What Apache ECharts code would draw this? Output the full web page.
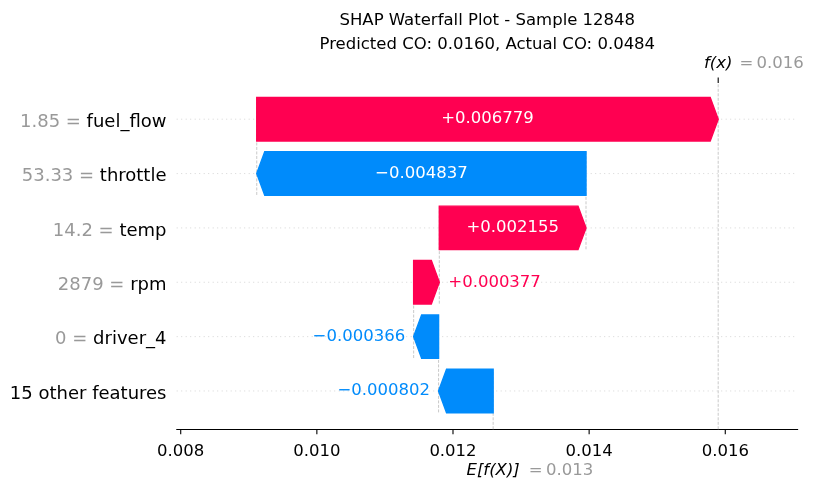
<!DOCTYPE html>
<html>
<head>
<meta charset="utf-8">
<script src="https://cdn.jsdelivr.net/npm/echarts@6/dist/echarts.min.js"></script>
<style>html,body{margin:0;padding:0;background:#fff}#main{width:813px;height:489px}</style>
</head>
<body>
<div id="main"></div>
<script>
// rows listed top to bottom
var features = ['fuel_flow', 'throttle', 'temp', 'rpm', 'driver_4', '15 other features'];
var featureValues = ['1.85', '53.33', '14.2', '2879', '0', ''];
var shapValues = [0.006779, -0.004837, 0.002155, 0.000377, -0.000366, -0.000802];
var baseValue = 0.01259;
var xTicks = [0.008, 0.010, 0.012, 0.014, 0.016];
var xMin = 0.007941, xMax = 0.017064;
var yMin = -0.705, yMax = 5.666;

var RED = '#ff0051', BLUE = '#008bfb', GRAY = '#999999';
var FONT = 'DejaVu Sans';
var n = features.length;

// bottom row starts at the base value, each bar starts where the one below ends
var bars = [];
var loc = baseValue;
for (var i = n - 1; i >= 0; i--) {
    bars[i] = [loc, loc + shapValues[i], n - 1 - i, shapValues[i]];
    loc += shapValues[i];
}
var fx = loc;

// guide lines: [x0, y0, x1, y1, kind]  kind 0 dashed, 1 dotted, 2 tick down, 3 tick up
var guides = [];
for (var r = 0; r < n; r++) guides.push([xMin, r, xMax, r, 1]);
for (var i = 0; i < n - 1; i++) {
    guides.push([bars[i][0], bars[i][2] + 0.4, bars[i][0], bars[i][2] - 1.4, 0]);
}
guides.push([baseValue, yMin, baseValue, yMin + (yMax - yMin) / n, 0]);
guides.push([fx, yMin, fx, yMax, 0]);
xTicks.forEach(function (t) { guides.push([t, yMin, t, yMin, 2]); });
guides.push([fx, yMax, fx, yMax, 3]);

function fmt(v) {
    return (v > 0 ? '+' : '\u2212') + Math.abs(v).toFixed(6);
}

function renderGuide(params, api) {
    var p0 = api.coord([api.value(0), api.value(1)]);
    var p1 = api.coord([api.value(2), api.value(3)]);
    var kind = api.value(4);
    if (kind >= 2) {
        var d = kind === 2 ? 5 : -5.4;
        return {
            type: 'line',
            shape: {x1: p0[0], y1: p0[1], x2: p0[0], y2: p0[1] + d},
            style: {stroke: '#000', lineWidth: 1.1}
        };
    }
    return {
        type: 'line',
        shape: {x1: p0[0], y1: p0[1], x2: p1[0], y2: p1[1]},
        style: {
            stroke: kind === 1 ? '#cccccc' : '#bbbbbb',
            lineWidth: 0.8,
            lineDash: kind === 1 ? [1, 3.5] : [3, 1.5]
        }
    };
}

function renderBar(params, api) {
    var s = api.value(0), e = api.value(1), row = api.value(2), v = api.value(3);
    var p0 = api.coord([s, row]), p1 = api.coord([e, row]);
    var hh = api.size([0, 0.4])[1];
    var dir = e > s ? 1 : -1;
    var len = Math.abs(p1[0] - p0[0]);
    var head = Math.min(8, len);
    var y = p0[1];
    var neck = p1[0] - dir * head;
    var color = v > 0 ? RED : BLUE;
    var txt = fmt(v);
    var inside = len > txt.length * 10.5 + 10;
    var tx, align, fill;
    if (inside) {
        tx = (p0[0] + p1[0]) / 2; align = 'center'; fill = '#ffffff';
    } else if (dir > 0) {
        tx = p1[0] + 9; align = 'left'; fill = color;
    } else {
        tx = p1[0] - 8.5; align = 'right'; fill = color;
    }
    return {
        type: 'group',
        children: [{
            type: 'polygon',
            shape: {points: [[p0[0], y - hh], [neck, y - hh], [p1[0], y], [neck, y + hh], [p0[0], y + hh]]},
            style: {fill: color, stroke: color, lineWidth: 1.4}
        }, {
            type: 'text',
            x: tx, y: y,
            style: {text: txt, fill: fill, align: align, verticalAlign: 'middle',
                fontSize: 16.5, fontFamily: FONT}
        }]
    };
}

var mychart = echarts.init(document.getElementById('main'));
var option = {
    animation: false,
    title: {
        text: 'SHAP Waterfall Plot - Sample 12848\nPredicted CO: 0.0160, Actual CO: 0.0484',
        left: 487.3,
        top: 8,
        textAlign: 'center',
        padding: 0,
        textStyle: {fontSize: 16.5, fontWeight: 'normal', fontFamily: FONT, color: '#000', lineHeight: 24.5}
    },
    grid: {left: 176.7, right: 15.3, top: 83, bottom: 59.7, outerBoundsMode: 'none'},
    xAxis: [{
        type: 'value', min: xMin, max: xMax, position: 'bottom',
        axisLine: {show: true, onZero: false, lineStyle: {color: '#000', width: 1.1}},
        axisTick: {show: false},
        axisLabel: {customValues: xTicks, formatter: function (v) { return v.toFixed(3); },
            fontSize: 16.5, fontFamily: FONT, color: '#000', margin: 14},
        splitLine: {show: false}
    }, {
        type: 'value', min: xMin, max: xMax, position: 'top',
        axisLine: {show: false},
        axisTick: {show: false},
        axisLabel: {customValues: [fx], margin: 8.8,
            formatter: function () { return '{b|f(x)}{g|=\u2009' + fx.toFixed(3) + '}'; },
            rich: {
                b: {fontSize: 16.5, fontFamily: FONT, fontStyle: 'italic', color: '#000', lineHeight: 20, padding: [0, 0, 0, 71.3]},
                g: {fontSize: 16.5, fontFamily: FONT, color: GRAY, lineHeight: 20, padding: [0, 0, 0, 7]}
            }},
        splitLine: {show: false}
    }, {
        type: 'value', min: xMin, max: xMax, position: 'bottom',
        axisLine: {show: false},
        axisTick: {show: false},
        axisLabel: {customValues: [baseValue], margin: 31.5,
            formatter: function () { return '{b|E[f(X)]}{g|=\u2009' + baseValue.toFixed(3) + '}'; },
            rich: {
                b: {fontSize: 16.5, fontFamily: FONT, fontStyle: 'italic', color: '#000', lineHeight: 20, padding: [0, 0, 0, 73.3]},
                g: {fontSize: 16.5, fontFamily: FONT, color: GRAY, lineHeight: 20, padding: [0, 0, 0, 9]}
            }},
        splitLine: {show: false}
    }],
    yAxis: {
        type: 'value', min: yMin, max: yMax,
        axisLine: {show: false},
        axisTick: {show: false},
        splitLine: {show: false},
        axisLabel: {
            customValues: [0, 1, 2, 3, 4, 5],
            margin: 10.2,
            formatter: function (v) {
                var i = n - 1 - Math.round(v);
                if (featureValues[i] === '') return '{b|' + features[i] + '}';
                return '{g|' + featureValues[i] + ' = }{b|' + features[i] + '}';
            },
            rich: {
                g: {color: GRAY, fontSize: 18, fontFamily: FONT, padding: [6, 0, 0, 0]},
                b: {color: '#000', fontSize: 18, fontFamily: FONT, padding: [6, 0, 0, 0]}
            }
        }
    },
    series: [{
        type: 'custom',
        renderItem: renderGuide,
        encode: {x: [0, 2], y: [1, 3]},
        data: guides,
        silent: true,
        clip: false,
        z: 1
    }, {
        type: 'custom',
        renderItem: renderBar,
        encode: {x: [0, 1], y: 2},
        data: bars,
        z: 2
    }]
};
mychart.setOption(option);
</script>
</body>
</html>
